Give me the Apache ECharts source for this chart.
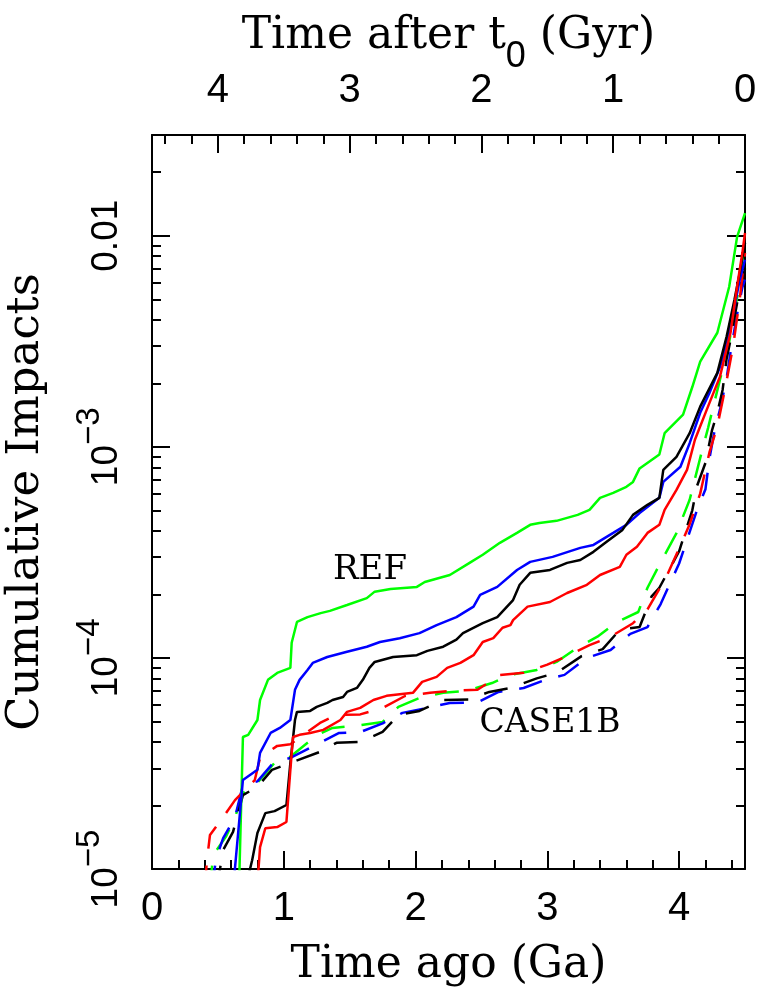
<!DOCTYPE html>
<html>
<head>
<meta charset="utf-8">
<script src="https://cdn.jsdelivr.net/npm/echarts@6/dist/echarts.min.js"></script>
<style>
  html, body { margin: 0; padding: 0; background: #fff; }
  #chart { width: 759px; height: 992px; }
</style>
</head>
<body>
<div id="chart"></div>
<script>
// time ago (Ga) vs cumulative impacts
const refGreen = [[0.66, 8e-6], [0.69, 4.22e-5], [0.73, 4.32e-5], [0.80, 5.08e-5], [0.82, 6.32e-5], [0.88, 7.87e-5], [0.95, 8.49e-5], [1.05, 8.97e-5], [1.06, 1.18e-4], [1.10, 1.48e-4], [1.18, 1.56e-4], [1.28, 1.63e-4], [1.35, 1.67e-4], [1.48, 1.78e-4], [1.63, 1.92e-4], [1.69, 2.06e-4], [1.81, 2.12e-4], [2.01, 2.17e-4], [2.07, 2.29e-4], [2.26, 2.47e-4], [2.41, 2.82e-4], [2.51, 3.08e-4], [2.64, 3.51e-4], [2.77, 3.91e-4], [2.87, 4.27e-4], [2.94, 4.36e-4], [3.07, 4.46e-4], [3.23, 4.76e-4], [3.32, 5.03e-4], [3.40, 5.73e-4], [3.50, 6.05e-4], [3.60, 6.46e-4], [3.65, 6.82e-4], [3.70, 7.9e-4], [3.85, 9.2e-4], [3.89, 1.16e-3], [4.03, 1.42e-3], [4.10, 1.92e-3], [4.16, 2.53e-3], [4.29, 3.47e-3], [4.38, 5.73e-3], [4.44, 9.88e-3], [4.50, 1.28e-2]];
const refBlue = [[0.615, 8e-6], [0.69, 2.64e-5], [0.80, 2.95e-5], [0.82, 3.55e-5], [0.90, 4.41e-5], [0.97, 4.66e-5], [1.05, 5.08e-5], [1.085, 7.06e-5], [1.12, 7.87e-5], [1.18, 8.77e-5], [1.22, 9.47e-5], [1.33, 1.01e-4], [1.48, 1.07e-4], [1.63, 1.13e-4], [1.73, 1.19e-4], [1.88, 1.24e-4], [2.03, 1.31e-4], [2.16, 1.43e-4], [2.31, 1.56e-4], [2.44, 1.75e-4], [2.49, 1.99e-4], [2.62, 2.17e-4], [2.77, 2.61e-4], [2.87, 2.85e-4], [3.04, 3.01e-4], [3.25, 3.32e-4], [3.35, 3.43e-4], [3.50, 3.91e-4], [3.60, 4.27e-4], [3.70, 4.86e-4], [3.85, 5.73e-4], [3.88, 6.82e-4], [4.01, 8.04e-4], [4.08, 1.04e-3], [4.16, 1.45e-3], [4.23, 1.80e-3], [4.31, 2.39e-3], [4.37, 3.21e-3], [4.42, 4.61e-3], [4.46, 6.18e-3], [4.50, 7.69e-3]];
const refBlack = [[0.706, 8e-6], [0.76, 1.10e-5], [0.80, 1.48e-5], [0.86, 1.84e-5], [0.93, 1.88e-5], [1.02, 2.01e-5], [1.05, 3.18e-5], [1.085, 5.08e-5], [1.10, 5.55e-5], [1.20, 5.61e-5], [1.25, 5.86e-5], [1.33, 6.12e-5], [1.37, 6.32e-5], [1.45, 6.53e-5], [1.48, 6.90e-5], [1.555, 7.21e-5], [1.60, 7.87e-5], [1.65, 8.97e-5], [1.69, 9.57e-5], [1.83, 1.01e-4], [2.01, 1.03e-4], [2.09, 1.08e-4], [2.21, 1.13e-4], [2.31, 1.22e-4], [2.36, 1.31e-4], [2.51, 1.46e-4], [2.62, 1.56e-4], [2.74, 1.88e-4], [2.79, 2.22e-4], [2.87, 2.53e-4], [3.02, 2.61e-4], [3.15, 2.82e-4], [3.25, 2.91e-4], [3.35, 3.18e-4], [3.45, 3.55e-4], [3.57, 4.04e-4], [3.65, 4.76e-4], [3.76, 5.31e-4], [3.85, 5.73e-4], [3.88, 7.78e-4], [3.98, 8.97e-4], [4.08, 1.16e-3], [4.16, 1.55e-3], [4.29, 2.24e-3], [4.36, 3.32e-3], [4.42, 4.97e-3], [4.46, 6.68e-3], [4.50, 9.27e-3]];
const refRed = [[0.797, 8e-6], [0.82, 1.27e-5], [0.86, 1.56e-5], [0.95, 1.58e-5], [1.02, 1.67e-5], [1.05, 2.95e-5], [1.07, 4.22e-5], [1.12, 4.32e-5], [1.20, 4.41e-5], [1.30, 4.56e-5], [1.43, 5.08e-5], [1.48, 5.55e-5], [1.58, 5.80e-5], [1.68, 6.32e-5], [1.78, 6.61e-5], [1.98, 6.83e-5], [2.05, 7.70e-5], [2.16, 8.13e-5], [2.24, 8.97e-5], [2.34, 9.47e-5], [2.44, 1.03e-4], [2.51, 1.19e-4], [2.59, 1.24e-4], [2.66, 1.39e-4], [2.72, 1.43e-4], [2.74, 1.51e-4], [2.85, 1.75e-4], [3.02, 1.84e-4], [3.15, 2.03e-4], [3.30, 2.22e-4], [3.40, 2.47e-4], [3.55, 2.70e-4], [3.60, 3.08e-4], [3.68, 3.36e-4], [3.76, 3.91e-4], [3.85, 4.27e-4], [3.89, 5.03e-4], [3.98, 6.25e-4], [4.06, 7.78e-4], [4.12, 1.08e-3], [4.21, 1.50e-3], [4.31, 2.15e-3], [4.39, 3.47e-3], [4.44, 5.73e-3], [4.48, 8.30e-3], [4.50, 1.03e-2]];

const caseGreen = [[0.44, 8e-6], [0.463, 1.16e-5], [0.56, 1.42e-5], [0.63, 1.76e-5], [0.69, 2.29e-5], [0.80, 2.56e-5], [0.95, 3.29e-5], [1.05, 3.40e-5], [1.25, 4.3e-5], [1.37, 4.66e-5], [1.58, 4.8e-5], [1.75, 4.97e-5], [1.87, 5.86e-5], [2.03, 6.46e-5], [2.21, 6.83e-5], [2.39, 6.98e-5], [2.58, 7.6e-5], [2.72, 8.31e-5], [2.92, 8.77e-5], [3.07, 9.57e-5], [3.23, 1.12e-4], [3.38, 1.26e-4], [3.53, 1.48e-4], [3.69, 1.65e-4], [3.76, 2.15e-4], [3.85, 2.76e-4], [3.98, 3.9e-4], [4.08, 5.61e-4], [4.17, 9.37e-4], [4.22, 1.23e-3], [4.31, 2.08e-3], [4.37, 2.9e-3], [4.45, 5.5e-3], [4.50, 9.5e-3]];
const caseBlue = [[0.455, 8e-6], [0.486, 1.12e-5], [0.54, 1.4e-5], [0.63, 1.76e-5], [0.69, 2.5e-5], [0.80, 2.6e-5], [0.92, 3.18e-5], [1.05, 3.36e-5], [1.275, 3.96e-5], [1.42, 4.41e-5], [1.58, 4.45e-5], [1.75, 4.9e-5], [1.90, 5.49e-5], [2.09, 5.8e-5], [2.26, 6.12e-5], [2.47, 6.15e-5], [2.63, 6.9e-5], [2.82, 7.2e-5], [2.99, 7.9e-5], [3.13, 8.31e-5], [3.30, 1.0e-4], [3.48, 1.09e-4], [3.63, 1.3e-4], [3.76, 1.4e-4], [3.86, 1.8e-4], [4.00, 2.8e-4], [4.135, 5.0e-4], [4.20, 6.3e-4], [4.23, 8.8e-4], [4.27, 1.2e-3], [4.31, 1.5e-3], [4.36, 2.1e-3], [4.39, 2.8e-3], [4.41, 3.3e-3], [4.44, 4.25e-3], [4.48, 5.7e-3], [4.50, 6.2e-3]];
const caseBlack = [[0.49, 8e-6], [0.54, 1.23e-5], [0.615, 1.5e-5], [0.69, 2.24e-5], [0.80, 2.45e-5], [0.91, 2.95e-5], [1.05, 3.18e-5], [1.275, 3.59e-5], [1.40, 3.96e-5], [1.58, 4.0e-5], [1.75, 4.46e-5], [1.87, 5.37e-5], [2.03, 5.61e-5], [2.21, 6.32e-5], [2.40, 6.35e-5], [2.56, 6.9e-5], [2.72, 7.2e-5], [2.92, 8.0e-5], [3.07, 8.5e-5], [3.26, 1.02e-4], [3.42, 1.1e-4], [3.55, 1.36e-4], [3.70, 1.4e-4], [3.79, 1.95e-4], [3.85, 2.15e-4], [4.00, 3.2e-4], [4.10, 5.0e-4], [4.135, 6.5e-4], [4.20, 8.4e-4], [4.25, 1.2e-3], [4.29, 1.45e-3], [4.33, 1.86e-3], [4.36, 2.6e-3], [4.39, 3.2e-3], [4.44, 4.8e-3], [4.50, 7.0e-3]];
const caseRed = [[0.40, 8e-6], [0.417, 1.1e-5], [0.44, 1.45e-5], [0.54, 1.76e-5], [0.63, 2.12e-5], [0.78, 2.64e-5], [0.82, 3.36e-5], [0.95, 3.83e-5], [1.05, 3.9e-5], [1.275, 4.92e-5], [1.40, 5.37e-5], [1.58, 5.4e-5], [1.75, 5.8e-5], [1.92, 6.6e-5], [2.11, 6.83e-5], [2.26, 6.98e-5], [2.47, 7.06e-5], [2.64, 8.3e-5], [2.82, 8.5e-5], [3.00, 9.3e-5], [3.15, 1.02e-4], [3.32, 1.15e-4], [3.48, 1.26e-4], [3.65, 1.46e-4], [3.76, 1.70e-4], [3.90, 2.4e-4], [4.01, 3.4e-4], [4.08, 4.3e-4], [4.16, 6.0e-4], [4.23, 9.4e-4], [4.29, 1.25e-3], [4.35, 1.9e-3], [4.41, 3.0e-3], [4.46, 5.0e-3], [4.50, 8.3e-3]];

const agoTicks = [0, 1, 2, 3, 4];      // bottom axis labels
const afterTicks = [0, 1, 2, 3, 4];    // top axis labels
const yMin = 1e-5;
const yMax = 0.03;
const minorMantissas = [2, 3, 4, 5, 6, 7, 8, 9];

const SERIF = 'DejaVu Serif';
const SANS = 'Liberation Sans';
const BLACK = '#000';
const yMaxLog = Math.log10(yMax);

// log-space positions of the 2..9 minor ticks
const minorLog = [];
for (let e = -5; e <= -2; e++) {
  minorMantissas.forEach(m => {
    const v = e + Math.log10(m);
    if (v <= yMaxLog + 1e-9) minorLog.push(v);
  });
}

const lineStyleAxis = { color: BLACK, width: 2 };

function yLabel(v) {
  const e = Math.round(Math.log10(v));
  if (e === -2) return '0.01';
  return '{b|10}{s|\u2212' + (-e) + '}';
}

const chart = echarts.init(document.getElementById('chart'), null, { renderer: 'canvas' });

function xAxisPair(position, inverse, labels, name) {
  return [
    {
      type: 'value', position, inverse, min: 0, max: 4.5, interval: 1,
      axisLine: { show: true, onZero: false, lineStyle: lineStyleAxis },
      axisTick: { inside: true, length: 18, lineStyle: lineStyleAxis },
      axisLabel: {
        margin: position === 'bottom' ? 20 : 24,
        fontFamily: SANS, fontSize: 40, color: BLACK,
        showMinLabel: true, showMaxLabel: false,
        formatter: v => labels.includes(v) ? String(v) : ''
      },
      splitLine: { show: false },
      name,
      nameLocation: 'middle',
      nameGap: position === 'bottom' ? 75 : 60,
      nameMoveOverlap: false,
      nameTextStyle: {
        fontFamily: SERIF, fontSize: 44, color: BLACK,
        rich: {
          a: { fontFamily: SERIF, fontSize: 44, color: BLACK, verticalAlign: 'top', lineHeight: 60 },
          s: { fontFamily: SANS, fontSize: 36, color: BLACK, verticalAlign: 'bottom', lineHeight: 60 }
        }
      }
    },
    {
      type: 'value', position, inverse, min: 0, max: 4.5, interval: 0.2,
      axisLine: { show: false, onZero: false },
      axisTick: { inside: true, length: 9, lineStyle: lineStyleAxis },
      axisLabel: { show: false },
      splitLine: { show: false }
    }
  ];
}

function yAxisPair(position, withLabels) {
  return [
    {
      type: 'log', logBase: 10, position, min: yMin, max: yMax,
      axisLine: { show: true, onZero: false, lineStyle: lineStyleAxis },
      axisTick: { inside: true, length: 18, lineStyle: lineStyleAxis },
      minorTick: { show: false },
      splitLine: { show: false },
      axisLabel: withLabels ? {
        rotate: 90, margin: 27, color: BLACK,
        fontFamily: SANS, fontSize: 37,
        showMinLabel: true, showMaxLabel: false,
        formatter: yLabel,
        rich: {
          b: { fontFamily: SANS, fontSize: 37, color: BLACK, verticalAlign: 'bottom', lineHeight: 52 },
          s: { fontFamily: SANS, fontSize: 33, color: BLACK, verticalAlign: 'top', lineHeight: 52 }
        }
      } : { show: false },
      name: withLabels ? 'Cumulative Impacts' : '',
      nameLocation: 'middle',
      nameGap: 103,
      nameMoveOverlap: false,
      nameTextStyle: { fontFamily: SERIF, fontSize: 45, color: BLACK }
    },
    {
      type: 'value', position, min: -5, max: yMaxLog,
      axisLine: { show: false, onZero: false },
      axisTick: { show: true, inside: true, length: 9, customValues: minorLog, lineStyle: lineStyleAxis },
      axisLabel: { show: false },
      splitLine: { show: false }
    }
  ];
}

function curve(data, color, dashed) {
  return {
    type: 'line',
    xAxisIndex: 0,
    yAxisIndex: 0,
    data,
    symbol: 'none',
    showSymbol: false,
    silent: true,
    clip: true,
    lineStyle: { color, width: 2.5, type: dashed ? [24, 17] : 'solid' }
  };
}

chart.setOption({
  animation: false,
  backgroundColor: '#fff',
  grid: { left: 152, right: 14, top: 135, bottom: 123, outerBoundsMode: 'none' },
  xAxis: [
    ...xAxisPair('bottom', false, agoTicks, 'Time ago (Ga)'),
    ...xAxisPair('top', true, afterTicks, '{a|Time after t}{s|0}{a| (Gyr)}')
  ],
  yAxis: [
    ...yAxisPair('left', true),
    ...yAxisPair('right', false)
  ],
  series: [
    curve(caseGreen, '#00ff00', true),
    curve(caseBlue, '#0000ff', true),
    curve(caseBlack, '#000000', true),
    curve(caseRed, '#ff0000', true),
    curve(refGreen, '#00ff00', false),
    curve(refBlue, '#0000ff', false),
    curve(refBlack, '#000000', false),
    curve(refRed, '#ff0000', false)
  ],
  graphic: [
    { type: 'text', x: 370, y: 570, style: { text: 'REF', fontFamily: SERIF, fontSize: 34, fill: BLACK, align: 'center', verticalAlign: 'middle' } },
    { type: 'text', x: 550, y: 723, style: { text: 'CASE1B', fontFamily: SERIF, fontSize: 33, fill: BLACK, align: 'center', verticalAlign: 'middle' } }
  ]
});
</script>
</body>
</html>
